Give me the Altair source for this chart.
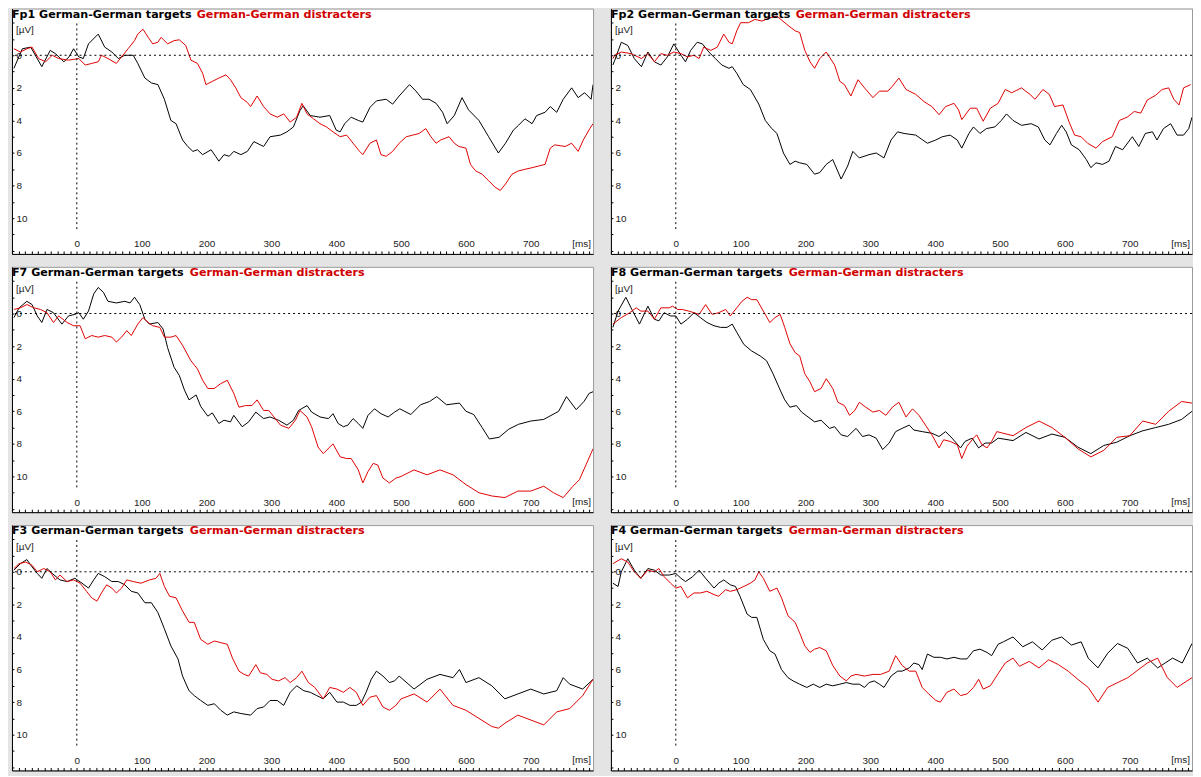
import altair as alt
import pandas as pd

# ---------------- data (time in ms, amplitude in µV; positive plotted downward) ----------------
CHANNELS = ["Fp1", "Fp2", "F7", "F8", "F3", "F4"]
COND_LABELS = ["German-German targets", "German-German distracters"]
X_TICK_LABELS = [0, 100, 200, 300, 400, 500, 600, 700]
Y_TICK_LABELS = [0, 2, 4, 6, 8, 10]

FP1_TARGETS = [(-97,0.8),(-84,-0.4),(-71,-0.5),(-64,0.0),(-54,0.7),(-41,-0.3),(-33,-0.1),(-20,0.4),(-12,0.1),(-5,-0.4),(3,0.1),(10,0.2),(18,-0.7),(33,-1.3),(43,-0.5),(54,-0.2),(64,0.2),(74,0.0),(87,0.0),(94,0.5),(105,1.4),(115,1.7),(125,1.8),(135,2.7),(145,4.0),(153,4.2),(163,5.2),(171,5.6),(179,5.9),(186,5.8),(194,6.1),(207,5.8),(214,6.2),(219,6.5),(227,6.1),(235,6.2),(242,5.9),(253,6.1),(263,5.9),(273,5.3),(288,5.6),(298,5.0),(314,4.9),(324,4.7),(334,4.4),(344,3.4),(349,3.1),(360,3.7),(375,3.8),(390,3.7),(400,4.6),(406,4.7),(413,4.2),(423,3.8),(434,4.0),(441,4.1),(452,3.2),(462,2.8),(477,2.7),(487,3.0),(497,2.5),(513,1.8),(523,2.2),(533,2.7),(543,2.7),(554,2.95),(564,3.5),(571,4.2),(582,3.7),(594,2.6),(604,3.35),(620,4.0),(635,5.0),(650,6.0),(661,5.4),(673,4.6),(681,4.3),(691,3.9),(702,4.2),(709,3.7),(722,3.5),(730,3.15),(740,3.5),(750,2.7),(763,2.0),(773,2.6),(783,2.3),(793,2.7),(796,1.8)]
FP1_DISTRACTERS = [(-97,-0.4),(-87,-0.2),(-77,-0.4),(-69,-0.5),(-59,0.2),(-48,0.4),(-38,0.0),(-28,0.2),(-13,0.3),(3,0.2),(13,0.6),(23,0.5),(33,0.4),(38,0.0),(48,0.2),(61,0.5),(69,0.1),(79,-0.4),(89,-0.9),(94,-1.3),(102,-1.6),(110,-1.1),(117,-0.7),(125,-0.8),(130,-1.1),(140,-0.7),(150,-0.9),(158,-0.95),(168,-0.6),(176,0.3),(186,0.5),(194,1.1),(199,1.8),(209,1.6),(219,1.4),(230,1.2),(237,1.5),(245,2.0),(253,2.6),(263,2.9),(268,3.15),(278,2.5),(288,3.15),(298,3.6),(309,3.8),(319,3.6),(329,4.1),(339,3.8),(347,2.95),(355,3.6),(365,3.9),(375,4.2),(385,4.4),(395,4.7),(406,5.0),(416,4.9),(426,5.4),(436,5.9),(441,6.1),(452,5.4),(462,5.2),(469,6.1),(477,6.2),(487,5.9),(497,5.4),(508,5.0),(518,4.9),(528,4.8),(538,4.5),(546,5.0),(554,5.4),(561,5.2),(574,5.0),(582,5.4),(589,5.6),(600,5.7),(607,6.7),(615,7.1),(625,7.3),(635,7.7),(645,8.1),(653,8.3),(661,7.9),(671,7.3),(681,7.1),(691,7.0),(702,6.9),(712,6.8),(722,6.7),(730,5.7),(737,5.5),(753,5.6),(763,5.4),(773,5.9),(781,5.2),(791,4.5),(796,4.2)]

FP2_TARGETS = [(-97,0.6),(-94,0.3),(-84,-0.8),(-74,-0.6),(-64,0.2),(-53,0.7),(-43,-0.2),(-33,0.4),(-23,0.6),(-13,0.1),(-3,-0.7),(8,0.0),(15,0.4),(23,-0.3),(33,-0.8),(41,-0.7),(51,-0.2),(61,0.2),(71,0.6),(82,0.8),(87,0.7),(94,1.1),(104,1.8),(115,2.1),(128,3.0),(138,4.0),(148,4.5),(156,4.8),(166,6.0),(176,6.7),(184,6.5),(191,6.6),(202,6.7),(214,7.3),(222,7.2),(232,6.7),(242,6.4),(255,7.6),(265,6.8),(273,5.9),(283,6.3),(298,6.1),(309,6.0),(321,6.3),(332,5.2),(342,4.7),(352,4.8),(370,4.9),(388,5.4),(401,5.2),(411,5.0),(423,4.9),(434,5.2),(441,5.7),(452,4.8),(459,4.4),(469,4.8),(479,4.5),(492,4.4),(502,4.0),(510,3.6),(520,4.0),(533,4.3),(548,4.2),(559,4.4),(569,5.2),(577,5.5),(587,4.8),(595,4.3),(602,4.7),(610,5.5),(622,5.8),(633,6.4),(640,6.9),(648,6.6),(658,6.7),(668,6.5),(678,5.6),(689,5.8),(704,5.0),(714,5.6),(724,4.8),(735,4.7),(742,5.2),(752,4.5),(763,4.2),(773,4.9),(783,4.9),(791,4.5),(796,3.8)]
FP2_DISTRACTERS = [(-97,0.2),(-94,0.0),(-84,-0.2),(-69,-0.1),(-53,0.2),(-43,-0.1),(-33,0.4),(-23,-0.1),(-13,0.0),(-3,-0.2),(8,-0.1),(18,0.1),(28,0.0),(36,0.2),(43,-0.5),(54,-0.3),(64,-0.5),(74,-1.3),(82,-0.8),(87,-0.7),(94,-1.5),(100,-2.0),(112,-2.0),(122,-2.2),(133,-2.1),(145,-2.3),(156,-2.4),(171,-1.9),(184,-1.5),(191,-1.4),(199,-0.3),(207,0.4),(214,0.8),(222,0.2),(232,-0.2),(245,0.6),(253,1.6),(260,1.8),(270,2.5),(281,1.5),(291,2.0),(304,2.6),(314,2.2),(327,2.2),(334,1.9),(344,1.4),(355,2.1),(370,2.4),(383,2.85),(395,3.15),(406,3.65),(416,3.15),(429,2.95),(436,3.35),(441,3.95),(454,3.25),(464,3.25),(474,4.05),(485,3.25),(497,2.95),(508,2.1),(518,2.3),(533,2.0),(546,2.4),(554,2.7),(566,2.1),(576,2.4),(584,3.15),(597,3.05),(607,4.15),(615,4.9),(625,5.0),(635,5.4),(648,5.7),(658,5.3),(673,5.0),(684,4.0),(696,3.8),(707,3.45),(717,3.55),(727,2.75),(740,2.45),(750,2.1),(760,2.0),(768,2.7),(776,3.05),(783,2.0),(794,1.8)]

F7_TARGETS = [(-97,0.25),(-89,-0.35),(-77,-0.75),(-69,-0.55),(-61,0.15),(-54,0.55),(-46,-0.25),(-36,-0.05),(-23,0.65),(-13,0.15),(-3,0.05),(3,-0.05),(10,0.35),(18,-0.15),(26,-1.2),(33,-1.6),(41,-1.3),(48,-0.75),(61,-0.65),(74,-0.75),(82,-0.65),(89,-1.0),(97,-0.55),(105,0.35),(112,0.65),(125,0.55),(133,0.95),(140,2.1),(150,3.3),(158,3.8),(166,4.7),(173,5.3),(184,5.0),(191,5.7),(202,6.3),(209,6.1),(219,6.75),(227,6.55),(237,6.65),(242,6.25),(255,6.95),(265,6.65),(276,6.05),(288,6.45),(298,6.35),(311,6.55),(324,6.85),(334,6.55),(342,5.95),(355,5.65),(362,6.05),(375,6.35),(388,6.45),(395,6.15),(403,6.75),(411,6.95),(418,6.85),(426,6.45),(434,6.75),(441,7.05),(449,6.25),(459,5.85),(469,6.15),(480,6.35),(490,6.05),(498,5.85),(515,6.2),(530,5.6),(544,5.4),(555,5.1),(570,5.6),(590,5.5),(600,6.0),(612,6.2),(625,7.0),(636,7.7),(651,7.6),(666,7.1),(681,6.8),(700,6.6),(720,6.5),(743,6.0),(755,5.1),(770,5.9),(782,5.4),(790,4.9),(796,4.8)]
F7_DISTRACTERS = [(-97,-0.25),(-87,-0.35),(-77,-0.55),(-66,-0.35),(-56,-0.25),(-46,-0.05),(-36,0.55),(-28,0.15),(-15,0.55),(-5,0.75),(5,0.75),(13,1.55),(23,1.35),(33,1.45),(43,1.35),(54,1.45),(61,1.75),(69,1.45),(77,1.05),(84,1.35),(94,0.65),(102,0.25),(110,0.55),(117,0.75),(128,0.85),(135,1.45),(145,1.45),(153,1.35),(163,1.95),(176,2.9),(186,3.4),(194,4.1),(202,4.6),(212,4.6),(222,4.3),(232,4.1),(242,4.9),(250,5.75),(260,5.65),(270,5.65),(278,5.3),(288,5.95),(296,5.95),(304,6.35),(314,6.85),(327,7.05),(337,6.55),(344,5.95),(355,6.35),(362,6.95),(372,8.2),(380,8.6),(390,8.2),(395,8.0),(406,8.8),(416,8.9),(423,8.9),(434,9.6),(441,10.4),(449,9.7),(457,9.2),(464,9.3),(472,10.1),(482,10.4),(492,10.1),(500,10.0),(520,9.6),(540,9.9),(560,9.6),(580,9.9),(600,10.5),(620,11.0),(640,11.2),(660,11.3),(680,10.9),(700,10.9),(720,10.6),(735,11.0),(750,11.3),(765,10.6),(775,10.2),(785,9.3),(796,8.3)]

F8_TARGETS = [(-97,0.85),(-89,-0.15),(-77,-1.0),(-69,-0.35),(-56,0.65),(-43,-0.45),(-33,0.35),(-26,0.45),(-18,-0.05),(-8,0.15),(0,0.15),(8,0.65),(18,0.35),(28,-0.05),(38,0.25),(48,0.55),(59,0.75),(69,0.85),(79,0.85),(87,0.65),(94,1.15),(105,1.9),(117,2.3),(130,2.6),(140,2.9),(150,3.7),(161,4.7),(168,5.3),(176,5.75),(186,5.65),(194,6.05),(204,6.35),(214,6.65),(224,6.55),(237,7.05),(245,6.95),(255,7.45),(265,7.55),(278,7.05),(288,7.55),(298,7.45),(309,7.65),(319,8.35),(329,7.95),(339,7.25),(349,7.05),(360,6.85),(367,7.15),(380,7.25),(395,7.35),(406,7.55),(416,7.25),(426,7.65),(439,8.25),(446,7.85),(457,7.65),(467,8.25),(477,7.95),(487,7.95),(497,7.65),(520,7.8),(540,7.3),(560,7.7),(580,7.4),(600,7.6),(620,8.2),(640,8.6),(660,8.1),(680,7.9),(700,7.5),(720,7.2),(740,7.0),(760,6.8),(780,6.5),(796,6.0)]
F8_DISTRACTERS = [(-97,0.65),(-84,0.25),(-71,-0.05),(-61,-0.35),(-54,-0.15),(-43,-0.15),(-33,0.35),(-23,-0.35),(-10,-0.35),(-5,-0.45),(3,-0.25),(10,-0.25),(20,-0.15),(28,-0.05),(36,0.05),(46,-0.55),(56,0.05),(66,-0.05),(77,-0.25),(84,0.15),(94,-0.35),(102,-0.75),(110,-1.0),(117,-0.85),(125,-0.85),(135,-0.15),(145,0.55),(153,0.25),(161,0.05),(168,0.85),(176,1.85),(184,2.4),(191,2.6),(199,3.7),(207,4.2),(214,4.8),(224,4.6),(232,4.0),(242,4.6),(250,5.45),(260,5.65),(268,6.25),(276,5.95),(283,5.45),(293,5.75),(304,6.05),(314,5.95),(324,6.25),(334,5.75),(344,5.45),(355,6.35),(365,5.85),(375,6.25),(385,6.85),(395,7.45),(406,8.25),(413,7.75),(423,7.85),(434,8.05),(441,8.9),(449,8.15),(459,7.65),(464,7.45),(472,8.05),(480,8.25),(487,7.85),(495,7.25),(520,7.5),(540,7.0),(560,6.6),(580,7.0),(600,7.6),(620,8.3),(640,8.8),(660,8.4),(680,7.6),(700,7.5),(720,6.6),(740,6.8),(760,6.0),(780,5.4),(796,5.5)]

F3_TARGETS = [(-97,-0.1),(-87,-0.5),(-77,-0.75),(-69,-0.3),(-61,0.1),(-54,0.4),(-46,-0.2),(-38,0.1),(-26,0.5),(-15,0.6),(-3,0.4),(8,0.7),(18,1.0),(26,0.5),(33,0.1),(43,0.3),(54,0.6),(64,0.6),(74,0.8),(84,1.2),(94,1.3),(105,1.9),(115,1.9),(125,2.5),(135,3.5),(145,4.55),(156,5.35),(163,6.4),(173,7.3),(181,7.6),(191,7.9),(202,8.2),(212,8.1),(222,8.5),(232,8.8),(242,8.6),(253,8.7),(268,8.8),(278,8.4),(288,8.3),(298,7.9),(309,7.9),(319,8.2),(329,7.4),(339,7.0),(350,7.3),(360,7.4),(370,7.6),(380,7.8),(390,7.4),(401,8.0),(411,8.0),(421,8.2),(431,8.2),(439,8.0),(446,7.4),(454,6.6),(462,6.1),(472,6.4),(482,6.8),(490,6.7),(497,6.4),(520,7.2),(540,6.6),(560,6.3),(580,6.5),(590,6.0),(600,6.8),(620,6.5),(640,7.0),(660,7.8),(680,7.5),(700,7.2),(720,7.5),(740,7.3),(750,6.5),(760,6.9),(780,7.2),(796,6.6)]
F3_DISTRACTERS = [(-97,-0.2),(-89,-0.5),(-79,-0.6),(-69,-0.4),(-61,0.0),(-51,-0.2),(-41,0.0),(-33,0.5),(-26,0.2),(-15,0.6),(-5,0.5),(5,0.7),(15,1.2),(23,1.6),(31,1.8),(38,1.3),(46,0.8),(54,1.0),(61,1.3),(69,1.0),(77,0.5),(87,0.6),(99,0.7),(112,0.5),(122,0.4),(128,0.1),(135,0.9),(143,1.5),(153,1.6),(163,2.4),(173,3.1),(181,3.1),(191,4.15),(202,4.45),(212,4.25),(222,4.35),(232,4.45),(240,5.3),(250,6.1),(258,6.3),(265,6.4),(276,5.7),(283,6.2),(293,6.3),(301,6.6),(311,6.7),(321,6.5),(329,6.8),(339,6.5),(347,6.1),(357,6.8),(367,7.1),(380,7.8),(390,7.1),(401,7.2),(411,7.4),(421,7.1),(431,7.4),(441,8.2),(452,7.7),(462,7.6),(472,8.3),(482,8.5),(492,8.2),(500,7.8),(520,7.5),(540,8.0),(560,7.2),(580,8.2),(600,8.5),(620,9.0),(640,9.5),(650,9.6),(660,9.3),(680,8.8),(700,9.1),(720,9.4),(740,8.6),(760,8.4),(780,7.6),(796,6.6)]

F4_TARGETS = [(-97,0.7),(-89,0.9),(-84,0.0),(-74,-0.8),(-64,-0.1),(-54,0.4),(-43,-0.2),(-33,-0.1),(-23,0.2),(-10,0.2),(0,0.1),(8,0.4),(15,0.6),(26,0.3),(36,-0.1),(46,0.4),(59,1.0),(66,0.7),(74,0.5),(84,0.8),(92,0.9),(99,1.5),(110,2.6),(117,2.8),(125,2.8),(135,4.15),(145,4.85),(153,5.05),(163,6.0),(173,6.5),(181,6.7),(191,6.9),(202,7.1),(212,6.9),(222,7.1),(232,6.9),(242,7.0),(253,6.9),(263,6.8),(273,6.9),(283,6.9),(291,7.1),(298,6.8),(306,6.7),(314,6.9),(321,7.1),(332,6.4),(342,6.1),(349,6.1),(360,5.9),(367,5.6),(375,5.7),(380,6.0),(388,5.05),(398,5.25),(408,5.25),(418,5.35),(429,5.25),(439,5.35),(449,5.35),(459,4.85),(469,4.75),(480,4.95),(487,5.15),(497,4.45),(505,4.3),(520,4.0),(535,4.6),(550,4.3),(565,4.8),(580,4.2),(595,4.0),(610,4.5),(625,4.3),(636,5.3),(651,5.9),(666,5.0),(681,4.4),(697,4.7),(712,5.6),(727,5.3),(743,5.9),(766,5.3),(781,5.6),(796,4.4)]
F4_DISTRACTERS = [(-97,-0.5),(-84,-0.8),(-74,-0.6),(-64,0.0),(-54,0.4),(-43,-0.1),(-33,0.0),(-26,-0.2),(-18,0.3),(-8,0.7),(0,1.0),(8,0.9),(18,1.6),(28,1.3),(38,1.3),(48,1.2),(59,1.4),(66,1.5),(77,1.1),(84,1.2),(94,1.1),(105,0.9),(115,0.7),(122,0.5),(128,0.0),(135,0.4),(145,1.2),(156,1.0),(163,1.6),(173,2.7),(184,3.1),(191,3.75),(199,4.55),(207,4.95),(214,4.75),(222,4.65),(232,4.85),(242,5.75),(253,6.4),(263,6.7),(270,6.4),(278,6.3),(291,6.4),(304,6.3),(316,6.3),(329,6.1),(339,5.15),(349,5.75),(360,6.1),(370,6.1),(380,7.1),(390,7.5),(401,7.9),(408,8.0),(418,7.4),(429,7.2),(439,7.6),(449,7.5),(459,7.1),(467,6.6),(474,7.2),(485,7.0),(498,6.2),(508,5.6),(520,5.3),(530,5.8),(545,5.5),(560,5.9),(575,5.4),(590,5.7),(605,6.1),(620,6.6),(636,7.1),(651,8.0),(666,7.1),(697,6.5),(727,5.6),(743,5.3),(758,6.5),(773,7.1),(796,6.5)]

SERIES = {
    "Fp1": (FP1_TARGETS, FP1_DISTRACTERS),
    "Fp2": (FP2_TARGETS, FP2_DISTRACTERS),
    "F7": (F7_TARGETS, F7_DISTRACTERS),
    "F8": (F8_TARGETS, F8_DISTRACTERS),
    "F3": (F3_TARGETS, F3_DISTRACTERS),
    "F4": (F4_TARGETS, F4_DISTRACTERS),
}

# ---------------- layout / style ----------------
W, H = 585, 247
X0, X1 = -100, 796
PPU = 16.4           # pixels per µV
ZERO_PX = 47         # distance of the 0 µV line from the top of each panel
YMIN = -ZERO_PX / PPU
YMAX = (H - ZERO_PX) / PPU
RED = "#e00000"
FONT = "DejaVu Sans"
LABEL_FONT = "Liberation Sans"

xscale = alt.Scale(domain=[X0, X1], nice=False, zero=False)
yscale = alt.Scale(domain=[YMIN, YMAX], reverse=True, nice=False, zero=False)

x_axis = alt.Axis(
    orient="top", offset=-H, values=list(range(-100, 800, 10)),
    labelExpr="indexof([" + ",".join(str(v) for v in X_TICK_LABELS) + "], datum.value) >= 0 ? datum.value : ''",
    tickSize=3, labelPadding=2, domainColor="black", tickColor="black",
    labelFont=LABEL_FONT, labelFontSize=10, labelColor="#222222",
    grid=False, title=None, labelFlush=False, labelOverlap=False, labelBound=False)
y_axis = alt.Axis(
    orient="right", offset=-W, values=list(range(-2, 13)),
    labelExpr="indexof([" + ",".join(str(v) for v in Y_TICK_LABELS) + "], datum.value) >= 0 ? datum.value : ''",
    tickSize=2, labelPadding=2, domainColor="black", tickColor="black",
    labelFont=LABEL_FONT, labelFontSize=10, labelColor="#222222", labelBaseline="middle",
    grid=False, title=None, labelFlush=False, labelOverlap=False)

one = pd.DataFrame({"t": [0], "v": [0]})


def panel(ch, red_dx):
    tgt, dst = SERIES[ch]
    rows = [{"t": t, "v": v, "cond": "targets"} for t, v in tgt]
    rows += [{"t": t, "v": v, "cond": "distracters"} for t, v in dst]
    df = pd.DataFrame(rows)

    lines = alt.Chart(df).mark_line(strokeWidth=1, clip=True).encode(
        x=alt.X("t:Q", scale=xscale, axis=x_axis),
        y=alt.Y("v:Q", scale=yscale, axis=y_axis),
        color=alt.Color("cond:N", scale=alt.Scale(domain=["targets", "distracters"],
                                                  range=["#000000", RED]), legend=None),
        order=alt.Order("t:Q"),
    )
    zero = alt.Chart(one).mark_rule(color="black", strokeDash=[2, 3], strokeWidth=1).encode(
        y=alt.Y("v:Q", scale=yscale, axis=y_axis))
    onset = alt.Chart(one).mark_rule(color="black", strokeDash=[2, 3], strokeWidth=1).encode(
        x=alt.X("t:Q", scale=xscale, axis=x_axis), y=alt.value(15), y2=alt.value(224))
    t_black = alt.Chart(pd.DataFrame({"s": [ch + " " + COND_LABELS[0]]})).mark_text(
        align="left", baseline="top", font=FONT, fontWeight="bold", fontSize=11.2, color="black"
    ).encode(x=alt.value(0), y=alt.value(0), text="s:N")
    t_red = alt.Chart(pd.DataFrame({"s": [COND_LABELS[1]]})).mark_text(
        align="left", baseline="top", font=FONT, fontWeight="bold", fontSize=11.2, color="#d00000"
    ).encode(x=alt.value(red_dx), y=alt.value(0), text="s:N")
    uv = alt.Chart(pd.DataFrame({"s": ["[µV]"]})).mark_text(
        align="left", baseline="middle", font=LABEL_FONT, fontSize=10, color="#222222"
    ).encode(x=alt.value(4), y=alt.value(22), text="s:N")
    ms = alt.Chart(pd.DataFrame({"s": ["[ms]"]})).mark_text(
        align="right", baseline="bottom", font=LABEL_FONT, fontSize=10, color="#222222"
    ).encode(x=alt.value(W - 2), y=alt.value(H - 5), text="s:N")

    return alt.layer(lines, zero, onset, t_black, t_red, uv, ms).properties(width=W, height=H)


RED_DX = {"Fp1": 186, "Fp2": 186, "F7": 179, "F8": 179, "F3": 179, "F4": 179}

rows = []
for i in range(0, 6, 2):
    rows.append(alt.hconcat(panel(CHANNELS[i], RED_DX[CHANNELS[i]]),
                            panel(CHANNELS[i + 1], RED_DX[CHANNELS[i + 1]]), spacing=16))

chart = alt.vconcat(*rows, spacing=9).properties(
    background="#e4e4e4",
    padding={"left": 3, "top": -3, "right": 0, "bottom": 0},
).configure_view(fill="white", stroke="#9a9a9a", strokeWidth=1)

chart.save("out.html", embed_options={"renderer": "svg", "actions": False})
